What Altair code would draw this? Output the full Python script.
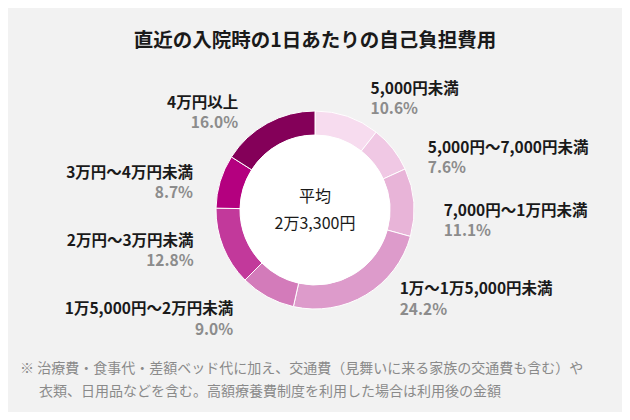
import altair as alt
import pandas as pd

# ---- data ----
categories = [
    "5,000円未満",
    "5,000円～7,000円未満",
    "7,000円～1万円未満",
    "1万～1万5,000円未満",
    "1万5,000円～2万円未満",
    "2万円～3万円未満",
    "3万円～4万円未満",
    "4万円以上",
]
shares = [10.6, 7.6, 11.1, 24.2, 9.0, 12.8, 8.7, 16.0]
colors = ["#f7dcef", "#f0c8e4", "#e8b4d8", "#dd9bcb", "#d37bba", "#c2399b", "#b4007f", "#840059"]

title_text = "直近の入院時の1日あたりの自己負担費用"
center_lines = ["平均", "2万3,300円"]
note_lines = [
    "※ 治療費・食事代・差額ベッド代に加え、交通費（見舞いに来る家族の交通費も含む）や",
    "衣類、日用品などを含む。高額療養費制度を利用した場合は利用後の金額",
]

# label offsets (style): (align, dx, dy_name, dy_pct)
label_style = {
    "5,000円未満": ("left", 17, -9.5, 11),
    "5,000円～7,000円未満": ("left", 20, 10.5, 31),
    "7,000円～1万円未満": ("left", 11, 10, 30.5),
    "1万～1万5,000円未満": ("left", 24, -22, -1.5),
    "1万5,000円～2万円未満": ("right", -25, -4, 16.5),
    "2万円～3万円未満": ("right", -12, -13.5, 7),
    "3万円～4万円未満": ("right", -9, -3.5, 17),
    "4万円以上": ("right", -20, -4, 16.5),
}

FONT = "Noto Sans CJK JP"

df = pd.DataFrame({"cat": categories, "value": shares, "order": list(range(len(categories)))})

theta_scale = alt.Scale(domain=[0, 100])
color_scale = alt.Scale(domain=categories, range=colors)

base = alt.Chart(df)

ring = base.mark_arc(outerRadius=99, innerRadius=75, stroke="white", strokeWidth=1).encode(
    theta=alt.Theta("value:Q", stack=True, scale=theta_scale),
    color=alt.Color("cat:N", scale=color_scale, legend=None),
    order=alt.Order("order:Q"),
)

hole = alt.Chart(pd.DataFrame({"k": [0]})).mark_arc(outerRadius=75, innerRadius=0, color="white").encode(
    theta=alt.value(0), theta2=alt.value(6.2832)
)

lab_base = base.transform_window(
    cum="sum(value)", sort=[alt.SortField("order")], frame=[None, 0]
).transform_calculate(
    mid="datum.cum - datum.value / 2",
    pl="format(datum.value, '.1f') + '%'",
)

layers = [ring, hole]
for c in categories:
    align, dx, dyn, dyp = label_style[c]
    sub = lab_base.transform_filter(alt.datum.cat == c)
    layers.append(
        sub.mark_text(radius=118, align=align, baseline="middle", dx=dx, dy=dyn,
                      font=FONT, fontSize=15.5, fontWeight="bold", color="#1a1a1a").encode(
            theta=alt.Theta("mid:Q", scale=theta_scale), text="cat:N")
    )
    layers.append(
        sub.mark_text(radius=118, align=align, baseline="middle", dx=dx, dy=dyp,
                      font=FONT, fontSize=15.5, fontWeight="bold", color="#8c8c8c").encode(
            theta=alt.Theta("mid:Q", scale=theta_scale), text="pl:N")
    )

cdf = pd.DataFrame({"t": center_lines, "i": [0, 1]})
center1 = alt.Chart(cdf).transform_filter(alt.datum.i == 0).mark_text(
    dy=-13, font=FONT, fontSize=16, color="#1a1a1a", baseline="middle").encode(text="t:N")
center2 = alt.Chart(cdf).transform_filter(alt.datum.i == 1).mark_text(
    dy=14, font=FONT, fontSize=16, color="#1a1a1a", baseline="middle").encode(text="t:N")

ndf = pd.DataFrame({"t": note_lines, "i": [0, 1]})
note1 = alt.Chart(ndf).transform_filter(alt.datum.i == 0).mark_text(
    align="left", baseline="middle", font=FONT, fontSize=14, color="#8a8a8a").encode(
    text="t:N", x=alt.value(12), y=alt.value(299))
note2 = alt.Chart(ndf).transform_filter(alt.datum.i == 1).mark_text(
    align="left", baseline="middle", font=FONT, fontSize=14, color="#8a8a8a").encode(
    text="t:N", x=alt.value(31), y=alt.value(322))

layers += [center1, center2, note1, note2]

chart = alt.layer(*layers).properties(
    width=614,
    height=280,
    autosize=alt.AutoSizeParams(type="none"),
    padding={"top": 62, "bottom": 62, "left": 0, "right": 0},
    background="#f2f2f2",
    title=alt.Title(title_text, font=FONT, fontSize=19.5, fontWeight="bold", color="#1a1a1a",
                    anchor="middle", frame="group", offset=19),
).configure_view(strokeWidth=0)

chart.save("out.html", embed_options={"renderer": "svg", "actions": False})
